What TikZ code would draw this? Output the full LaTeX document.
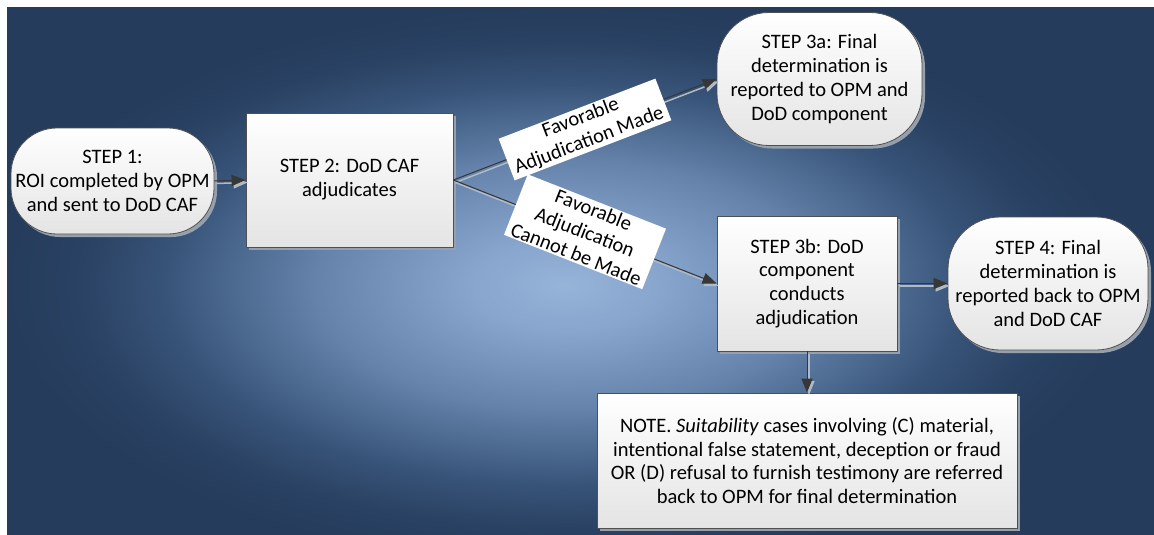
\documentclass[tikz,border=0pt]{standalone}
\usepackage{fontspec}
\setmainfont{Carlito}
\usetikzlibrary{arrows.meta,shadows}
\definecolor{bgc0}{RGB}{150,179,216}
\definecolor{bgc1}{RGB}{136,166,206}
\definecolor{bgc2}{RGB}{100,130,170}
\definecolor{bgc3}{RGB}{55,83,120}
\definecolor{bgc4}{RGB}{41,65,98}
\definecolor{bgc5}{RGB}{37,60,92}
\definecolor{boxborder}{RGB}{80,80,80}
\definecolor{boxbottom}{RGB}{228,228,228}
\definecolor{shadowc}{RGB}{150,160,172}
\definecolor{connc}{RGB}{55,55,55}
\definecolor{connshadow}{RGB}{175,186,198}
\pgfdeclareradialshading{bgshade}{\pgfpoint{0bp}{0bp}}{%
  color(0bp)=(bgc0); color(90bp)=(bgc1); color(250bp)=(bgc2); color(400bp)=(bgc3);
  color(490bp)=(bgc4); color(560bp)=(bgc5); color(900bp)=(bgc5)}
\tikzset{
  txt/.style={font=\fontsize{20.5}{23.8}\selectfont, text=black, align=center},
  box/.style={txt, draw=boxborder, line width=0.8pt, top color=white, bottom color=boxbottom,
    inner sep=0pt,
    drop shadow={shadow xshift=3pt, shadow yshift=-3pt, fill=shadowc, opacity=1}},
  stadium/.style={box, rounded corners=46pt},
  lab/.style={txt, fill=white, inner xsep=5pt, inner ysep=1.5pt, sloped},
  tip/.style={-{Triangle[length=14pt,width=11pt]}},
  conn/.style={draw=connc, line width=1pt, tip},
  connsh/.style={draw=connshadow, line width=1.5pt, tip, transform canvas={shift={(2pt,-2.5pt)}}}
}
\begin{document}
\begin{tikzpicture}[x=1pt,y=-1pt]
\useasboundingbox (0,0) rectangle (1154,535);
\fill[white] (0,0) rectangle (1154,535);
\begin{scope}
  \clip (7,8) rectangle (1154,535);
  \fill[bgc5] (7,8) rectangle (1154,535);
  \pgftransformshift{\pgfpoint{565pt}{-285pt}}
  \pgftransformyscale{0.5}
  \pgflowlevelsynccm
  \pgfuseshading{bgshade}
\end{scope}

\node[stadium, minimum width=203pt, minimum height=106pt] (s1) at (112.5,181)
  {STEP 1:\\ROI completed by OPM\\and sent to DoD CAF};
\node[box, minimum width=207pt, minimum height=134pt] (s2) at (349.5,180)
  {STEP 2: DoD CAF\\adjudicates};
\node[stadium, rounded corners=52pt, minimum width=205pt, minimum height=133pt] (s3a) at (819.5,79)
  {STEP 3a: Final\\determination is\\reported to OPM and\\DoD component};
\node[box, minimum width=180pt, minimum height=135pt] (s3b) at (807,283.5)
  {STEP 3b: DoD\\component\\conducts\\adjudication};
\node[stadium, rounded corners=52pt, minimum width=200pt, minimum height=133pt] (s4) at (1048,283.5)
  {STEP 4: Final\\determination is\\reported back to OPM\\and DoD CAF};
\node[box, minimum width=420pt, minimum height=135pt] (note) at (807,460.5)
  {NOTE. \textit{Suitability} cases involving (C) material,\\intentional false statement, deception or fraud\\OR (D) refusal to furnish testimony are referred\\back to OPM for final determination};

\draw[connsh] (s1.east) -- (s2.west);
\draw[connsh] (s2.east) -- (s3a.west);
\draw[connsh] (s2.east) -- (s3b.west);
\draw[connsh] (s3b.east) -- (s4.west);
\draw[connsh] (s3b.south) -- (note.north);
\draw[conn] (s1.east) -- (s2.west);
\draw[conn] (s2.east) -- node[lab]{Favorable\\Adjudication Made} (s3a.west);
\draw[conn] (s2.east) -- node[lab]{Favorable\\Adjudication\\Cannot be Made} (s3b.west);
\draw[conn] (s3b.east) -- (s4.west);
\draw[conn] (s3b.south) -- (note.north);
\end{tikzpicture}
\end{document}
